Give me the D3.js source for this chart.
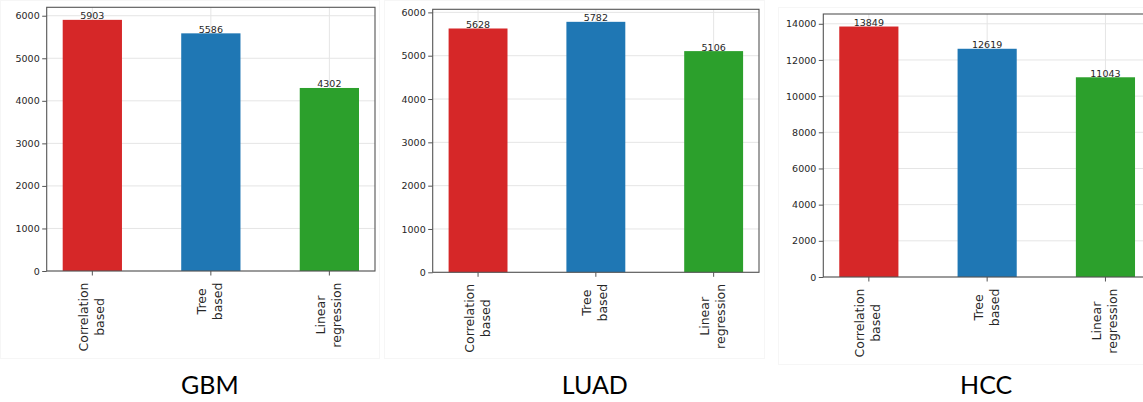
<!DOCTYPE html>
<html>
<head>
<meta charset="utf-8">
<script src="https://cdn.jsdelivr.net/npm/d3@7"></script>
<style>
  body { margin: 0; background: #fff; }
  svg { display: block; }
  .grid line { stroke: #e5e5e5; stroke-width: 1; }
  .tick-y, .bar-label { font-family: "DejaVu Sans", sans-serif; font-size: 9.5px; fill: #262626; }
  .tick-x { font-family: "DejaVu Sans", sans-serif; font-size: 12.5px; fill: #262626; }
  .title { font-family: Lato, "Open Sans", sans-serif; font-size: 25px; fill: #000; }
</style>
</head>
<body>
<svg id="chart" width="1143" height="402"></svg>
<script>
// --- data ---
const methodLines = [["Correlation", "based"], ["Tree", "based"], ["Linear", "regression"]];
const barColors = ["#d62728", "#1f77b4", "#2ca02c"];
const datasetNames = ["GBM", "LUAD", "HCC"];
const gbmCounts = [5903, 5586, 4302];
const luadCounts = [5628, 5782, 5106];
const hccCounts = [13849, 12619, 11043];
const gbmTicks = [0, 1000, 2000, 3000, 4000, 5000, 6000];
const luadTicks = [0, 1000, 2000, 3000, 4000, 5000, 6000];
const hccTicks = [0, 2000, 4000, 6000, 8000, 10000, 12000, 14000];

// panel frames (screenshot-like layout, third one cut at the right edge)
const panels = [
    { name: datasetNames[0], counts: gbmCounts, ticks: gbmTicks, left: 46.7, right: 375, top: 7.3, bottom: 271, box: [0, 0, 379, 358] },
    { name: datasetNames[1], counts: luadCounts, ticks: luadTicks, left: 432.7, right: 759, top: 9.3, bottom: 272.3, box: [384, 0, 380, 358] },
    { name: datasetNames[2], counts: hccCounts, ticks: hccTicks, left: 823.3, right: 1151, top: 14, bottom: 277, box: [778, 7, 380, 357] }
];

const svg = d3.select("#chart");

panels.forEach(p => {
    const g = svg.append("g");

    // faint border of the pasted image
    g.append("rect").attr("x", p.box[0] + 0.5).attr("y", p.box[1] + 0.5)
        .attr("width", p.box[2]).attr("height", p.box[3])
        .attr("fill", "none").attr("stroke", "#f6f6f6");

    const x = d3.scaleLinear().domain([-0.385, 2.385]).range([p.left, p.right]);
    const y = d3.scaleLinear().domain([0, d3.max(p.counts) * 1.05]).range([p.bottom, p.top]);
    const bw = x(0.25) - x(-0.25);

    // clip so the cut-off panel does not spill
    const clipId = "clip-" + p.name;
    g.append("clipPath").attr("id", clipId).append("rect")
        .attr("x", p.box[0]).attr("y", 0).attr("width", 1143 - p.box[0]).attr("height", 402);
    const inner = g.append("g").attr("clip-path", `url(#${clipId})`);

    // grid
    inner.append("g").attr("class", "grid")
        .selectAll("line").data(p.ticks).join("line")
        .attr("x1", p.left).attr("x2", p.right)
        .attr("y1", d => y(d)).attr("y2", d => y(d));
    inner.append("g").attr("class", "grid")
        .selectAll("line").data(d3.range(methodLines.length)).join("line")
        .attr("x1", d => x(d)).attr("x2", d => x(d))
        .attr("y1", p.top).attr("y2", p.bottom);

    // bars
    inner.selectAll("rect.bar").data(p.counts).join("rect")
        .attr("class", "bar")
        .attr("x", (d, i) => x(i) - bw / 2)
        .attr("width", bw)
        .attr("y", d => y(d))
        .attr("height", d => p.bottom - y(d))
        .attr("fill", (d, i) => barColors[i]);

    // value labels
    inner.selectAll("text.bar-label").data(p.counts).join("text")
        .attr("class", "bar-label")
        .attr("x", (d, i) => x(i))
        .attr("y", d => y(d) - 0.5)
        .attr("text-anchor", "middle")
        .text(d => d);

    // frame
    inner.append("rect")
        .attr("x", p.left).attr("y", p.top)
        .attr("width", p.right - p.left).attr("height", p.bottom - p.top)
        .attr("fill", "none").attr("stroke", "#555").attr("stroke-width", 1.1);

    // y axis ticks
    const yAxis = d3.axisLeft(y).tickValues(p.ticks).tickFormat(d3.format("d")).tickSize(4.5).tickPadding(2.5);
    const ya = inner.append("g").attr("transform", `translate(${p.left},0)`).call(yAxis);
    ya.select(".domain").remove();
    ya.selectAll(".tick line").attr("stroke", "#555");
    ya.selectAll(".tick text").attr("class", "tick-y").attr("font-size", null).attr("font-family", null).attr("fill", null);

    // x tick marks
    inner.selectAll("line.xt").data(d3.range(methodLines.length)).join("line")
        .attr("x1", d => x(d)).attr("x2", d => x(d))
        .attr("y1", p.bottom).attr("y2", p.bottom + 4.5)
        .attr("stroke", "#555");

    // rotated two-line category labels, block centred on the longest line
    methodLines.forEach((lines, i) => {
        const t = inner.append("g")
            .attr("transform", `translate(${x(i)},${p.bottom + 11.5}) rotate(-90)`);
        const texts = lines.map((ln, k) => t.append("text")
            .attr("class", "tick-x")
            .attr("y", -4.5 + k * 16)
            .attr("text-anchor", "middle")
            .text(ln));
        const maxW = d3.max(texts, s => s.node().getComputedTextLength());
        texts.forEach(s => s.attr("x", -maxW / 2));
    });

    // dataset title
    g.append("text").attr("class", "title")
        .attr("x", (p.left + p.right) / 2 - 1)
        .attr("y", 394)
        .attr("text-anchor", "middle")
        .text(p.name);
});
</script>
</body>
</html>
